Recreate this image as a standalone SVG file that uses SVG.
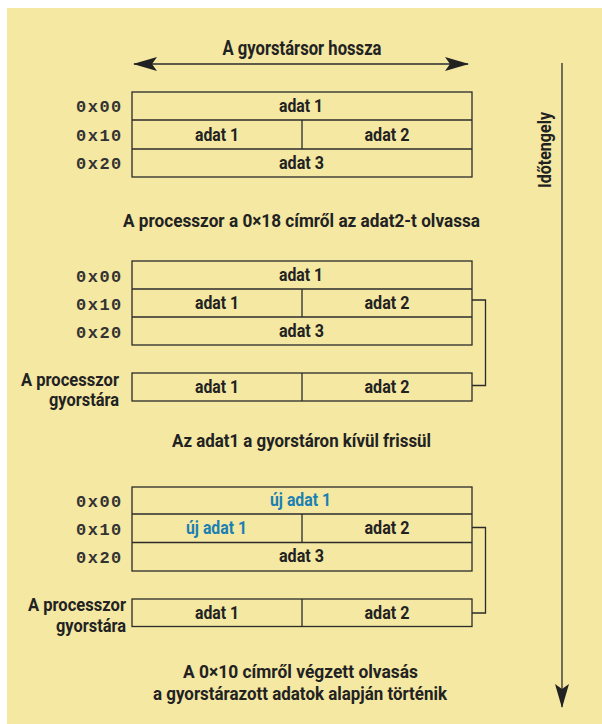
<svg xmlns="http://www.w3.org/2000/svg" width="602" height="724" viewBox="0 0 602 724">
  <defs>
    <style>
      .bg { fill: #f4e8a2; }
      .cell { fill: none; stroke: #2b2b2b; stroke-width: 1.3; }
      .wire { fill: none; stroke: #2b2b2b; stroke-width: 1.3; }
      .t { font-family: "Roboto", "Liberation Sans", sans-serif; font-weight: 700; fill: #222; text-anchor: middle; }
      .cap { font-size: 18px; }
      .lbl { font-size: 18px; }
      .new { fill: #1a7fb3; }
      .side { font-family: "Roboto", "Liberation Sans", sans-serif; font-weight: 700; font-size: 18px; fill: #222; text-anchor: end; }
      .addr { font-family: "Liberation Mono", "DejaVu Sans Mono", monospace; font-weight: 700; font-size: 17px; fill: #333; letter-spacing: 1.5px; }
    </style>
    <marker id="head" viewBox="0 0 24 14" refX="23" refY="7" markerWidth="24" markerHeight="14" markerUnits="userSpaceOnUse" orient="auto-start-reverse">
      <path d="M0,0 L24,7 L0,14 L5,7 Z" fill="#222"/>
    </marker>
  </defs>

  <rect class="bg" x="7" y="8" width="595" height="716"/>

  <!-- cache line length -->
  <g id="line-length">
    <line class="wire" x1="134" y1="64" x2="468" y2="64" marker-start="url(#head)" marker-end="url(#head)"/>
    <text class="t" x="302" y="55" font-size="19.5" textLength="159" lengthAdjust="spacingAndGlyphs">A gyorstársor hossza</text>
  </g>

  <!-- time axis -->
  <g id="time-axis">
    <line class="wire" x1="562" y1="63" x2="562" y2="707" marker-end="url(#head)"/>
    <text class="t" transform="translate(551,150) rotate(-90)" font-size="18" textLength="76" lengthAdjust="spacingAndGlyphs">Időtengely</text>
  </g>

  <!-- step 1: memory -->
  <g id="mem1">
    <rect class="cell" x="132" y="92" width="340" height="85"/>
    <line class="cell" x1="132" y1="120" x2="472" y2="120"/>
    <line class="cell" x1="132" y1="149" x2="472" y2="149"/>
    <line class="cell" x1="302" y1="120" x2="302" y2="149"/>
    <text class="t lbl" x="301" y="112" textLength="44" lengthAdjust="spacingAndGlyphs">adat 1</text>
    <text class="t lbl" x="217" y="140.5" textLength="44" lengthAdjust="spacingAndGlyphs">adat 1</text>
    <text class="t lbl" x="387" y="140.5" textLength="45" lengthAdjust="spacingAndGlyphs">adat 2</text>
    <text class="t lbl" x="301.5" y="169" textLength="45" lengthAdjust="spacingAndGlyphs">adat 3</text>
    <text class="addr" x="76" y="112">0x00</text>
    <text class="addr" x="76" y="140.5">0x10</text>
    <text class="addr" x="76" y="169">0x20</text>
  </g>

  <text id="caption1" class="t cap" x="301.5" y="227" textLength="357" lengthAdjust="spacingAndGlyphs">A processzor a 0×18 címről az adat2-t olvassa</text>

  <!-- step 2: memory and processor cache -->
  <g id="mem2">
    <rect class="cell" x="132" y="261" width="340" height="84"/>
    <line class="cell" x1="132" y1="289" x2="472" y2="289"/>
    <line class="cell" x1="132" y1="317" x2="472" y2="317"/>
    <line class="cell" x1="302" y1="289" x2="302" y2="317"/>
    <text class="t lbl" x="301" y="281" textLength="44" lengthAdjust="spacingAndGlyphs">adat 1</text>
    <text class="t lbl" x="217" y="309" textLength="44" lengthAdjust="spacingAndGlyphs">adat 1</text>
    <text class="t lbl" x="387" y="309" textLength="45" lengthAdjust="spacingAndGlyphs">adat 2</text>
    <text class="t lbl" x="301.5" y="337" textLength="45" lengthAdjust="spacingAndGlyphs">adat 3</text>
    <text class="addr" x="76" y="282">0x00</text>
    <text class="addr" x="76" y="310">0x10</text>
    <text class="addr" x="76" y="338">0x20</text>
  </g>
  <g id="cache2">
    <rect class="cell" x="132" y="373" width="340" height="28"/>
    <line class="cell" x1="302" y1="373" x2="302" y2="401"/>
    <text class="t lbl" x="217" y="393" textLength="44" lengthAdjust="spacingAndGlyphs">adat 1</text>
    <text class="t lbl" x="387" y="393" textLength="45" lengthAdjust="spacingAndGlyphs">adat 2</text>
    <text class="side" x="119" y="386" textLength="98" lengthAdjust="spacingAndGlyphs">A processzor</text>
    <text class="side" x="119" y="406" textLength="70" lengthAdjust="spacingAndGlyphs">gyorstára</text>
  </g>

  <text id="caption2" class="t cap" x="301.5" y="447" textLength="259" lengthAdjust="spacingAndGlyphs">Az adat1 a gyorstáron kívül frissül</text>

  <!-- step 3: memory updated, cache stale -->
  <g id="mem3">
    <rect class="cell" x="132" y="487" width="340" height="84"/>
    <line class="cell" x1="132" y1="514" x2="472" y2="514"/>
    <line class="cell" x1="132" y1="542.5" x2="472" y2="542.5"/>
    <line class="cell" x1="302" y1="514" x2="302" y2="542.5"/>
    <text class="t lbl new" x="300.5" y="506" textLength="61" lengthAdjust="spacingAndGlyphs">új adat 1</text>
    <text class="t lbl new" x="216.5" y="534" textLength="61" lengthAdjust="spacingAndGlyphs">új adat 1</text>
    <text class="t lbl" x="387" y="534" textLength="45" lengthAdjust="spacingAndGlyphs">adat 2</text>
    <text class="t lbl" x="301.5" y="562" textLength="45" lengthAdjust="spacingAndGlyphs">adat 3</text>
    <text class="addr" x="76" y="507">0x00</text>
    <text class="addr" x="76" y="535">0x10</text>
    <text class="addr" x="76" y="563">0x20</text>
  </g>
  <g id="cache3">
    <rect class="cell" x="132" y="599" width="340" height="27.5"/>
    <line class="cell" x1="302" y1="599" x2="302" y2="626.5"/>
    <text class="t lbl" x="217" y="619" textLength="44" lengthAdjust="spacingAndGlyphs">adat 1</text>
    <text class="t lbl" x="387" y="619" textLength="45" lengthAdjust="spacingAndGlyphs">adat 2</text>
    <text class="side" x="126" y="611" textLength="98" lengthAdjust="spacingAndGlyphs">A processzor</text>
    <text class="side" x="126" y="632" textLength="70" lengthAdjust="spacingAndGlyphs">gyorstára</text>
  </g>

  <!-- memory row to cache line links -->
  <g id="connectors">
    <polyline class="wire" points="472,300 485.5,300 485.5,385.5 472,385.5"/>
    <polyline class="wire" points="472,527.5 485.5,527.5 485.5,613 472,613"/>
  </g>

  <g id="caption3">
    <text class="t cap" x="300.5" y="678" textLength="235" lengthAdjust="spacingAndGlyphs">A 0×10 címről végzett olvasás</text>
    <text class="t cap" x="300" y="700" textLength="294" lengthAdjust="spacingAndGlyphs">a gyorstárazott adatok alapján történik</text>
  </g>
</svg>
